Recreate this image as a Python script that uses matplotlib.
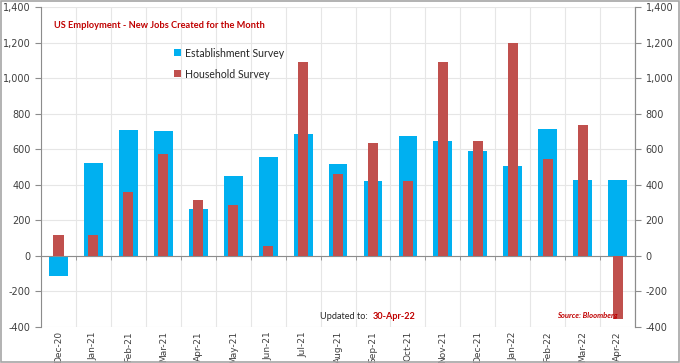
import matplotlib
matplotlib.use("Agg")
import matplotlib.pyplot as plt
import numpy as np
from matplotlib.ticker import FuncFormatter, FixedLocator
from matplotlib.patches import Rectangle

months = ["Dec-20", "Jan-21", "Feb-21", "Mar-21", "Apr-21", "May-21", "Jun-21", "Jul-21",
          "Aug-21", "Sep-21", "Oct-21", "Nov-21", "Dec-21", "Jan-22", "Feb-22", "Mar-22", "Apr-22"]
establishment = [-115, 520, 710, 700, 262, 447, 557, 688, 517, 424, 675, 645, 588, 504, 714, 428, 428]
household = [118, 116, 361, 571, 316, 288, 58, 1090, 458, 637, 424, 1090, 648, 1199, 543, 735, -355]
yticks = [-400, -200, 0, 200, 400, 600, 800, 1000, 1200, 1400]

est_color = "#00B0F0"
hh_color = "#C0504D"
grid_color = "#E6E6E6"
axis_color = "#8C8C8C"
text_color = "#404040"
font = "Lato"

fig = plt.figure(figsize=(6.8, 3.63), dpi=100)
fig.patches.append(Rectangle((0.0015, 0.003), 0.997, 0.994, transform=fig.transFigure,
                             fill=False, edgecolor="#A6A6A6", linewidth=1.2))
ax = fig.add_axes([0.0603, 0.0992, 0.8737, 0.8815])

x = np.arange(len(months))
ax.bar(x, establishment, width=0.54, color=est_color, zorder=2, label="Establishment Survey")
ax.bar(x, household, width=0.29, color=hh_color, zorder=3, label="Household Survey")

ax.set_xlim(-0.5, len(months) - 0.5)
ax.set_ylim(-400, 1400)
ax.set_yticks(yticks)
fmt = FuncFormatter(lambda v, p: f"{int(v):,}")
ax.yaxis.set_major_formatter(fmt)
ax.tick_params(axis="y", labelsize=7, colors=axis_color, labelcolor=text_color, length=4)

# grid
ax.set_axisbelow(True)
ax.yaxis.grid(True, color=grid_color, linewidth=0.8)
ax.xaxis.set_minor_locator(FixedLocator(np.arange(-0.5, len(months), 1.0)))
ax.xaxis.grid(True, which="minor", color=grid_color, linewidth=0.8)

# zero axis line with boundary ticks
ax.spines["bottom"].set_position(("data", 0))
ax.spines["bottom"].set_color(axis_color)
ax.spines["top"].set_visible(False)
ax.spines["left"].set_color(axis_color)
ax.spines["right"].set_color(axis_color)
ax.set_xticks(x)
ax.tick_params(axis="x", which="major", length=0, labelbottom=False)
ax.tick_params(axis="x", which="minor", length=3, color=axis_color)

# month labels at bottom
sec = ax.secondary_xaxis(0)
sec.set_xticks(x)
sec.set_xticklabels(months, rotation=90, fontsize=6.5, color=text_color)
sec.tick_params(length=0, pad=3)
sec.spines["bottom"].set_visible(False)

# right axis
ax2 = ax.twinx()
ax2.set_ylim(-400, 1400)
ax2.set_yticks(yticks)
ax2.yaxis.set_major_formatter(fmt)
ax2.tick_params(axis="y", labelsize=7, colors=axis_color, labelcolor=text_color, length=4)
for s in ["top", "left", "bottom"]:
    ax2.spines[s].set_visible(False)
ax2.spines["right"].set_color(axis_color)

# texts
ax.text(0.022, 0.942, "US Employment - New Jobs Created for the Month", transform=ax.transAxes,
        fontsize=6.7, fontweight="bold", color="#C00000", va="center", ha="left",
        family=font)
leg = ax.legend(loc="upper left", bbox_to_anchor=(0.213, 0.893), frameon=False,
                handlelength=0.65, handleheight=0.65, handletextpad=0.45, labelspacing=0.95,
                borderaxespad=0.2, prop={"family": font, "size": 7.6})
for t in leg.get_texts():
    t.set_color("#262626")
ax.text(0.470, 0.034, "Updated to:", transform=ax.transAxes, fontsize=6.6, color="#262626",
        va="center", ha="left", family=font)
ax.text(0.559, 0.034, "30-Apr-22", transform=ax.transAxes, fontsize=6.6, color="#C00000",
        fontweight="bold", va="center", ha="left", family=font)
ax.text(0.869, 0.036, "Source: Bloomberg", transform=ax.transAxes, fontsize=5.5, color="#C00000",
        fontweight="bold", style="italic", va="center", ha="left", family=font)

fig.savefig("out.png", dpi=100)
